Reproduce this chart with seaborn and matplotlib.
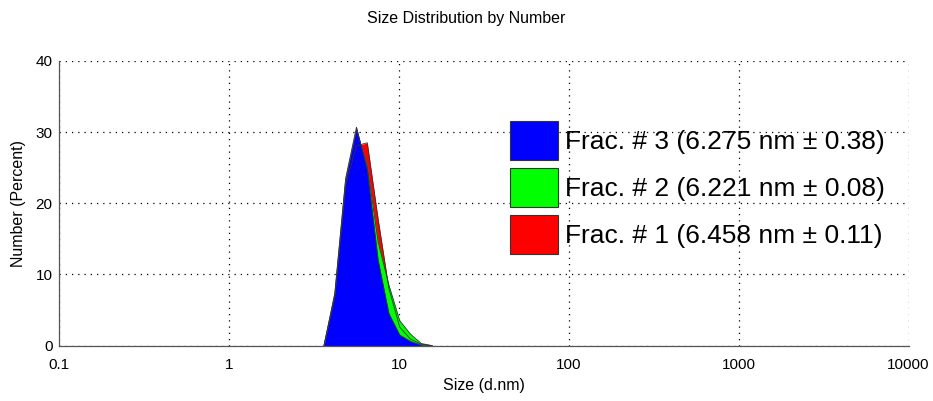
import numpy as np
import pandas as pd
import matplotlib
matplotlib.use("Agg")
import matplotlib.pyplot as plt
import matplotlib.ticker as mticker
from matplotlib.patches import Patch
import seaborn as sns

# size classes (d.nm) and number % for each fraction
size_nm = [3.615, 4.187, 4.849, 5.615, 6.503, 7.531, 8.721, 10.1, 11.7, 13.54, 15.69]
frac1 = [0, 6.8, 22.5, 28.1, 28.5, 17.8, 8.0, 2.6, 0.9, 0.2, 0]
frac2 = [0, 7.2, 23.2, 30.3, 25.3, 14.6, 8.5, 3.5, 1.6, 0.3, 0]
frac3 = [0, 7.4, 23.5, 30.7, 24.7, 12.0, 4.5, 1.5, 0.6, 0.1, 0]
labels = ["Frac. # 1 (6.458 nm ± 0.11)", "Frac. # 2 (6.221 nm ± 0.08)", "Frac. # 3 (6.275 nm ± 0.38)"]
colors = ["#ff0000", "#00ff00", "#0000ff"]

df = pd.DataFrame({"size": size_nm * 3,
                   "number": frac1 + frac2 + frac3,
                   "frac": [labels[0]] * len(size_nm) + [labels[1]] * len(size_nm) + [labels[2]] * len(size_nm)})

sns.set_style("white")
plt.rcParams["font.family"] = ["Liberation Sans", "DejaVu Sans"]
plt.rcParams["text.color"] = "black"
plt.rcParams["xtick.color"] = "black"
plt.rcParams["ytick.color"] = "black"
plt.rcParams["axes.labelcolor"] = "black"

fig = plt.figure(figsize=(9.33, 4.01), dpi=100)
ax = fig.add_axes([0.0636, 0.138, 0.9102, 0.71])

# red at the back, blue in front
for lab, col in zip(labels, colors):
    d = df[df.frac == lab]
    ax.fill_between(d["size"], d["number"], 0, color=col, lw=0)
    sns.lineplot(data=d, x="size", y="number", color="#333333", lw=0.6, ax=ax, legend=False)

ax.set_xscale("log")
ax.set_xlim(0.1, 10000)
ax.set_ylim(0, 40)
ax.set_yticks([0, 10, 20, 30, 40])
ax.yaxis.set_minor_locator(mticker.MultipleLocator(5))
ax.xaxis.set_major_formatter(mticker.FuncFormatter(lambda v, p: "%g" % v))
ax.xaxis.set_minor_locator(mticker.LogLocator(base=10, subs=np.arange(2, 10)))
ax.tick_params(which="both", direction="in", labelsize=11)
ax.tick_params(which="major", length=4, width=0.8, color="#444444")
ax.tick_params(which="minor", length=3, width=0.6, color="#444444")
ax.tick_params(axis="x", pad=9)
ax.tick_params(axis="y", pad=5)

ax.grid(True, which="major", color="black", linestyle=(0, (1, 4)), lw=0.9)
for s in ["top", "right"]:
    ax.spines[s].set_visible(False)
for s in ["left", "bottom"]:
    ax.spines[s].set_color("#555555")
    ax.spines[s].set_linewidth(0.9)

ax.set_xlabel("Size (d.nm)", fontsize=11.5, labelpad=4)
ax.set_ylabel("Number (Percent)", fontsize=11.5, labelpad=7)
fig.text(0.5, 0.953, "Size Distribution by Number", fontsize=11.5, ha="center", va="center")

handles = [Patch(facecolor=colors[i], edgecolor="#333333", lw=0.8, label=labels[i]) for i in [2, 1, 0]]
ax.legend(handles=handles, loc="upper left", bbox_to_anchor=(0.531, 0.79), frameon=False,
          fontsize=19, handlelength=1.82, handleheight=1.9, handletextpad=0.27,
          labelspacing=0.3, borderpad=0, borderaxespad=0)

fig.savefig("out.png", dpi=100)
